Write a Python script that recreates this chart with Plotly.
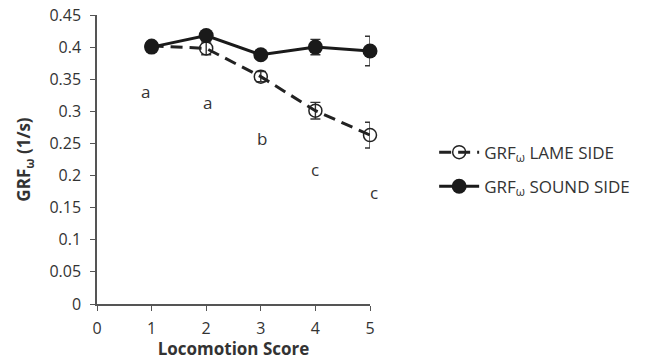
import plotly.graph_objects as go

scores = [1, 2, 3, 4, 5]
lame = [0.402, 0.398, 0.354, 0.301, 0.263]
lame_err = [0.004, 0.010, 0.008, 0.013, 0.020]
sound = [0.400, 0.418, 0.388, 0.400, 0.394]
sound_err = [0.004, 0.004, 0.005, 0.012, 0.023]
letters = ["a", "a", "b", "c", "c"]
letter_x = [0.88, 2.02, 3.02, 4.0, 5.0]
letter_y = [0.331, 0.313, 0.258, 0.209, 0.173]
x_ticks = [0, 1, 2, 3, 4, 5]

FONT = "Open Sans"
DARK = "#333333"

fig = go.Figure()
fig.add_trace(go.Scatter(
    x=scores, y=lame, mode="lines+markers",
    name="GRF<sub>ω</sub> LAME SIDE", legendgroup="lame",
    line=dict(color="#222222", width=3, dash="12px,7px"),
    marker=dict(symbol="circle-open", size=13, color="#222222", line=dict(width=1.5)),
    error_y=dict(type="data", array=lame_err, color="#333333", thickness=1.4, width=5),
    cliponaxis=False,
))
fig.add_trace(go.Scatter(
    x=scores, y=sound, mode="lines+markers",
    name="GRF<sub>ω</sub> SOUND SIDE", legendgroup="sound",
    line=dict(color="#1a1a1a", width=3),
    marker=dict(symbol="circle", size=15, color="#1a1a1a"),
    error_y=dict(type="data", array=sound_err, color="#333333", thickness=1.4, width=5),
    cliponaxis=False,
))
for i, (t, x, y) in enumerate(zip(letters, letter_x, letter_y)):
    fig.add_annotation(x=x, y=y, text=t, showarrow=False,
                       xshift=4 if i == 4 else 0,
                       font=dict(family=FONT, size=17, color=DARK))

fig.update_layout(
    width=652, height=360,
    margin=dict(l=97, r=282, t=15, b=56),
    paper_bgcolor="white", plot_bgcolor="white",
    font=dict(family=FONT, size=16, color=DARK),
    showlegend=True,
    legend=dict(x=1.235, y=0.465, xanchor="left", yanchor="middle",
                font=dict(family=FONT, size=17, color=DARK),
                tracegroupgap=9, itemwidth=40),
    xaxis=dict(range=[0, 5], tickvals=x_ticks, showgrid=False, zeroline=False,
               showline=True, linecolor="#555555", linewidth=1.5,
               ticks="outside", ticklen=5, tickcolor="#555555",
               ticklabelstandoff=4, automargin=False,
               title=dict(text="<b>Locomotion Score</b>", font=dict(size=17), standoff=10)),
    yaxis=dict(range=[0, 0.45], dtick=0.05, showgrid=False, zeroline=False,
               showline=True, linecolor="#555555", linewidth=1.5,
               ticks="outside", ticklen=5, tickcolor="#555555",
               ticklabelstandoff=6, automargin=False,
               title=dict(text="<b>GRF<sub>ω</sub> (1/s)</b>", font=dict(size=17), standoff=14)),
)
fig.write_html("out.html")
